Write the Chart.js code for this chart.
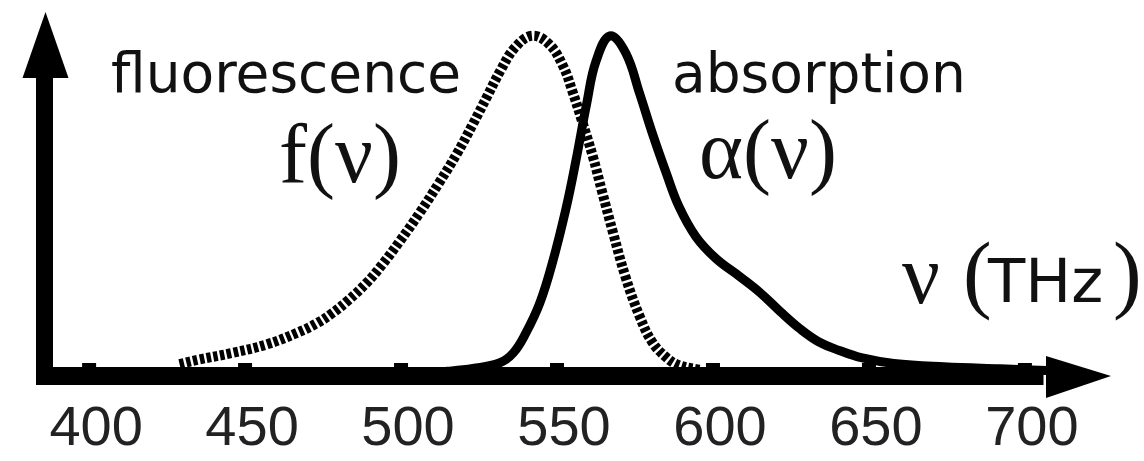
<!DOCTYPE html>
<html>
<head>
<meta charset="utf-8">
<script src="https://cdn.jsdelivr.net/npm/chart.js@4/dist/chart.umd.min.js"></script>
<style>
  html, body { margin: 0; padding: 0; background: #fff; }
  canvas { display: block; }
</style>
</head>
<body>
<canvas id="myChart" width="1144" height="461"></canvas>
<script>
// frequency axis (THz)
const tickValues = [400, 450, 500, 550, 600, 650, 700];

// fluorescence f(v), dotted curve (arbitrary units, peak = 100)
const fluorFreq  = [429, 435, 446, 457, 467, 473, 478, 483, 489, 494, 499.5, 506, 512, 518, 523, 527.5, 532, 536.5, 542, 547.5, 552, 555, 558, 561.5, 564.5, 568, 572, 576.5, 580.5, 585, 589, 596];
const fluorValue = [3.5, 4.8, 6.8, 9.3, 12.8, 15.5, 18.5, 22.2, 27.4, 32.8, 39.5, 48, 56.5, 65.5, 74, 82, 90, 96.5, 100, 97.5, 91, 83.5, 75, 64.5, 54, 42, 29, 17.5, 10, 5.5, 3.2, 1.8];

// absorption alpha(v), solid curve
const absFreq  = [505, 515, 523, 531.5, 536, 540, 544.5, 548.5, 553, 556, 559.5, 562.5, 567, 572, 576.5, 580.5, 585, 589, 594.5, 601, 608.5, 615, 621.5, 628, 634, 640.5, 647.5, 658, 674, 692, 712];
const absValue = [0.8, 1.4, 2.2, 3.8, 6.8, 12.6, 21.5, 33.2, 49.7, 63, 80, 92.5, 100, 95, 83, 71.5, 59.7, 50, 41, 34.5, 29.3, 24.6, 19, 13.8, 10, 7.5, 5.4, 3.7, 2.7, 2.1, 1.5];

const toPoints = (xs, ys) => xs.map((x, i) => ({ x: x, y: ys[i] }));

// thick arrow axes, small tick bumps, text labels
const arrowAxes = {
  id: 'arrowAxes',
  afterDatasetsDraw(chart) {
    const { ctx, chartArea, scales } = chart;
    const left = chartArea.left, bottom = chartArea.bottom;
    ctx.save();
    ctx.fillStyle = '#000';
    // y axis
    ctx.fillRect(left - 8.5, 70, 17, bottom + 9 - 70);
    ctx.beginPath();
    ctx.moveTo(left + 1, 12);
    ctx.lineTo(left - 22, 78);
    ctx.lineTo(left + 24, 78);
    ctx.closePath();
    ctx.fill();
    // x axis
    ctx.fillRect(left - 8.5, bottom - 9, 1052 - left, 18);
    ctx.beginPath();
    ctx.moveTo(chartArea.right, bottom);
    ctx.lineTo(1046, bottom - 20);
    ctx.lineTo(1046, bottom + 22);
    ctx.closePath();
    ctx.fill();
    // tick bumps
    tickValues.forEach(v => {
      const x = scales.x.getPixelForValue(v);
      ctx.fillRect(x - 7, bottom - 13, 14, 5);
    });
    ctx.restore();
  },
  afterDraw(chart) {
    const { ctx } = chart;
    ctx.save();
    ctx.fillStyle = '#111';
    ctx.textBaseline = 'alphabetic';
    ctx.textAlign = 'left';
    ctx.font = '55px "DejaVu Sans"';
    ctx.fillText('fluorescence', 111, 92);
    ctx.fillText('absorption', 672, 92);
    ctx.font = '84px "Liberation Serif"';
    ctx.fillText('f(ν)', 279, 182);
    ctx.fillText('α(ν)', 699, 178);
    ctx.fillText('ν', 902, 303);
    ctx.font = '86px "Liberation Serif"';
    ctx.fillText('(', 963, 302);
    ctx.fillText(')', 1113, 302);
    ctx.font = '61px "DejaVu Sans"';
    ctx.fillText('THz', 988, 302);
    ctx.restore();
  }
};

const chart = new Chart(document.getElementById('myChart').getContext('2d'), {
  type: 'line',
  data: {
    datasets: [
      {
        label: 'absorption',
        data: toPoints(absFreq, absValue),
        borderColor: '#000',
        borderWidth: 9,
        pointRadius: 0,
        tension: 0.4,
        fill: false,
      },
      {
        label: 'fluorescence',
        data: toPoints(fluorFreq, fluorValue),
        borderColor: '#000',
        borderWidth: 10,
        borderDash: [4.5, 2.4],
        borderCapStyle: 'butt',
        pointRadius: 0,
        tension: 0.4,
        fill: false,
      },
    ],
  },
  options: {
    responsive: false,
    animation: false,
    layout: { padding: { left: 44.5, right: 33, top: 12, bottom: 0 } },
    plugins: { legend: { display: false }, tooltip: { enabled: false } },
    scales: {
      x: {
        type: 'linear',
        min: 385.7,
        max: 727.6,
        grid: { display: false, drawTicks: false },
        border: { display: false },
        ticks: {
          color: '#222',
          font: { family: '"Liberation Sans", Arial, sans-serif', size: 56, lineHeight: 1.2 },
          padding: 20,
          labelOffset: 7,
          maxRotation: 0,
          autoSkip: false,
        },
        afterBuildTicks: (scale) => { scale.ticks = tickValues.map(v => ({ value: v })); },
        afterFit: (scale) => { scale.height = 85; },
      },
      y: { display: false, min: 0, max: 107 },
    },
  },
  plugins: [arrowAxes],
});
</script>
</body>
</html>
